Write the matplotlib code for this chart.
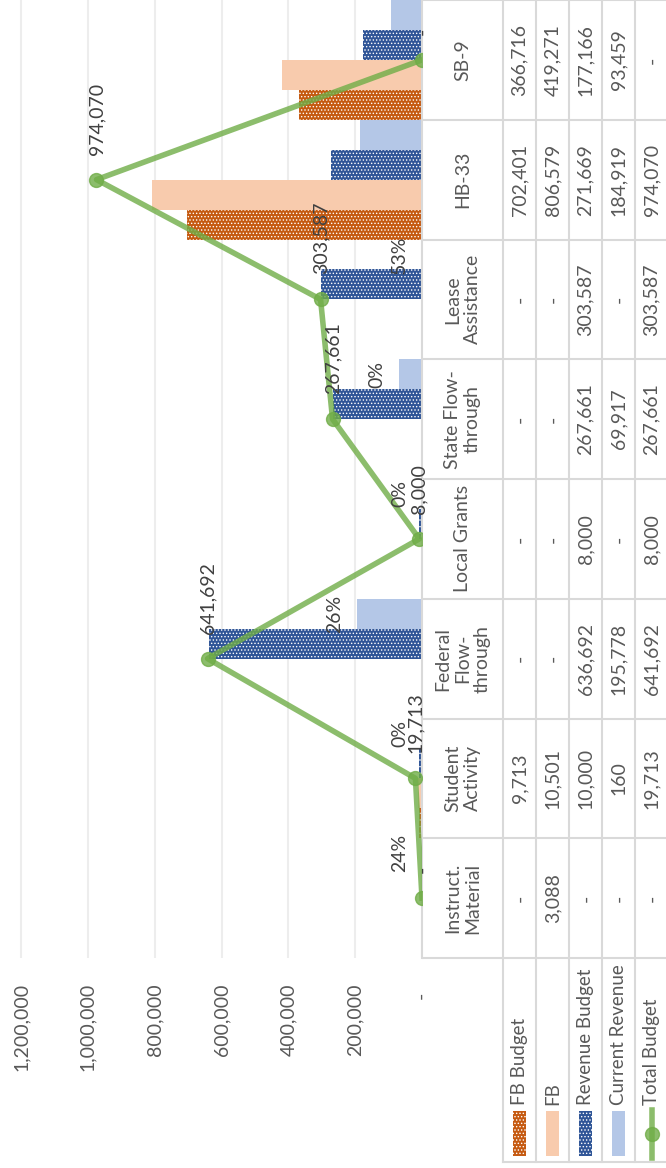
import numpy as np
import matplotlib
matplotlib.use('Agg')
from matplotlib import pyplot as plt
from matplotlib.patches import Rectangle

plt.rcParams['font.family'] = ['Lato', 'DejaVu Sans']
plt.rcParams['hatch.linewidth'] = 0.6

# data, bottom to top in the picture
categories = ['Instruct.\nMaterial', 'Student\nActivity', 'Federal\nFlow-\nthrough', 'Local Grants',
              'State Flow-\nthrough', 'Lease\nAssistance', 'HB-33', 'SB-9']
fb_budget = [0, 9713, 0, 0, 0, 0, 702401, 366716]
fb = [3088, 10501, 0, 0, 0, 0, 806579, 419271]
revenue_budget = [0, 10000, 636692, 8000, 267661, 303587, 271669, 177166]
current_revenue = [0, 160, 195778, 0, 69917, 0, 184919, 93459]
total_budget = [0, 19713, 641692, 8000, 267661, 303587, 974070, 0]
pct_labels = ['24%', '0%', '26%', '0%', '0%', '53%', '', '']
series_names = ['FB Budget', 'FB', 'Revenue Budget', 'Current Revenue', 'Total Budget']
value_ticks = [0, 200000, 400000, 600000, 800000, 1000000, 1200000]
value_tick_labels = ['-  ', '200,000', '400,000', '600,000', '800,000', '1,000,000', '1,200,000']

ORANGE = '#C55A11'
PEACH = '#F8CBAD'
BLUE = '#2F5597'
LBLUE = '#B4C7E7'
GREEN = '#70AD47'
TXT = '#595959'
LBL = '#404040'
LINE = '#D9D9D9'
FS = 14


def fmt(v):
    return '-' if v == 0 else f'{v:,.0f}'


W, H = 666, 1168
fig = plt.figure(figsize=(W / 100, H / 100), dpi=100)

# chart area (value axis runs right to left)
plot_right = 422
plot_bottom = 958
unit = plot_bottom / 8.0
ax = fig.add_axes([0, 1 - plot_bottom / H, plot_right / W, plot_bottom / H])
ax.set_xlim(1.2e6 * plot_right / 401, 0)
ax.set_ylim(-0.5, 7.5)

y = np.arange(len(categories))
bh = 0.25
ax.barh(y - 1.5 * bh, fb_budget, height=bh, color=ORANGE, edgecolor='white', linewidth=0, hatch='.....')
ax.barh(y - 0.5 * bh, fb, height=bh, color=PEACH, linewidth=0)
ax.barh(y + 0.5 * bh, revenue_budget, height=bh, color=BLUE, edgecolor='white', linewidth=0, hatch='.....')
ax.barh(y + 1.5 * bh, current_revenue, height=bh, color=LBLUE, linewidth=0)
ax.plot(total_budget, y, color=GREEN, lw=4, marker='o', ms=10, alpha=0.8, zorder=5)

for yi, v in zip(y, total_budget):
    ax.annotate(fmt(v), (v, yi), xytext=(0, 18), textcoords='offset points', rotation=90,
                ha='center', va='bottom', fontsize=FS, color=LBL, zorder=6)
for yi, v, p in zip(y, current_revenue, pct_labels):
    if p:
        ax.annotate(p, (v, yi + 1.5 * bh), xytext=(-16, 0), textcoords='offset points', rotation=90,
                    ha='center', va='center', fontsize=FS, color=LBL, zorder=6)

ax.set_xticks(value_ticks)
ax.set_xticklabels(value_tick_labels, rotation=90, color=TXT, fontsize=FS)
ax.tick_params(axis='x', length=0, pad=18)
ax.tick_params(axis='y', left=False, labelleft=False)
ax.grid(axis='x', color='#EDEDED', lw=1.5)
ax.set_axisbelow(True)
for s in ['top', 'left', 'bottom']:
    ax.spines[s].set_visible(False)
ax.spines['right'].set_color(LINE)
ax.spines['right'].set_linewidth(1.5)

# data table on the right, sharing the category scale
tab = fig.add_axes([plot_right / W, 0, 1 - plot_right / W, 1])
tab.set_xlim(plot_right, W)
tab.set_ylim(7.5 - H / unit, 7.5)
tab.axis('off')


def yu(px):
    return 7.5 - px / unit


row_edges = [422, 503, 536, 569, 602, 635, 668]
legend_bottom = yu(1162)

for k in range(len(categories) + 1):
    tab.plot([row_edges[0], row_edges[-1]], [k - 0.5, k - 0.5], color=LINE, lw=1.5)
for xe in row_edges[1:]:
    tab.plot([xe, xe], [7.5, legend_bottom], color=LINE, lw=1.5)
tab.plot([row_edges[1], row_edges[-1]], [legend_bottom, legend_bottom], color=LINE, lw=1.5)

head_x = (row_edges[0] + row_edges[1]) / 2
for yi, c in zip(y, categories):
    tab.text(head_x, yi, c, rotation=90, ha='center', va='center', multialignment='center',
             linespacing=1.2, fontsize=FS, color=TXT)

table_series = [fb_budget, fb, revenue_budget, current_revenue, total_budget]
for r, vals in enumerate(table_series):
    xc = (row_edges[r + 1] + row_edges[r + 2]) / 2
    for yi, v in zip(y, vals):
        tab.text(xc, yi, fmt(v), rotation=90, ha='center', va='center', fontsize=FS, color=TXT)

# legend keys inside the table
key_styles = [(ORANGE, '.....'), (PEACH, None), (BLUE, '.....'), (LBLUE, None)]
for r, name in enumerate(series_names):
    xc = (row_edges[r + 1] + row_edges[r + 2]) / 2
    if r < 4:
        col, hatch = key_styles[r]
        tab.add_patch(Rectangle((xc - 6.5, yu(1156)), 13, yu(1111) - yu(1156), facecolor=col,
                                edgecolor='white', linewidth=0, hatch=hatch))
    else:
        tab.plot([xc, xc], [yu(1158), yu(1110)], color=GREEN, lw=4, alpha=0.8)
        tab.plot([xc], [yu(1134)], color=GREEN, marker='o', ms=10, alpha=0.8)
    tab.text(xc, yu(1105), name, rotation=90, ha='center', va='bottom', fontsize=13.5, color=TXT)

fig.savefig('out.png', dpi=100)
